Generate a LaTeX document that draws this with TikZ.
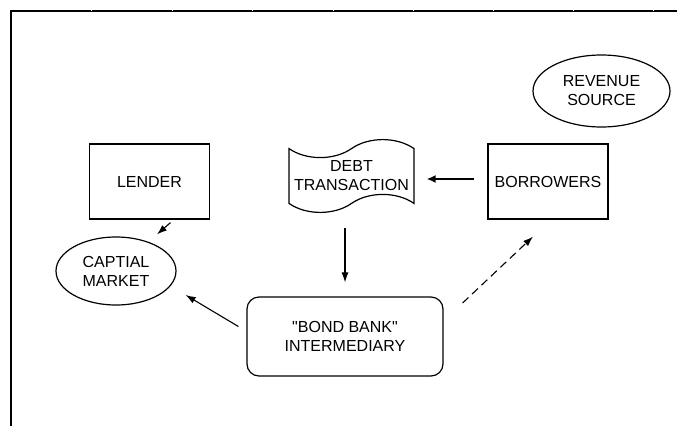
\documentclass[tikz,border=0pt]{standalone}
\usepackage{fontspec}
\setmainfont{Liberation Sans}
\usetikzlibrary{positioning}
\usetikzlibrary{arrows.meta}
\usetikzlibrary{calc}
\usetikzlibrary{shapes.geometric,shapes.symbols}

\begin{document}
\begin{tikzpicture}[x=1pt,y=-1pt,
    every node/.style={font=\fontsize{16}{19}\selectfont, align=center},
    box/.style={draw, line width=1.2pt, minimum width=120pt, minimum height=75pt},
    oval/.style={draw, ellipse, line width=1.2pt},
    arr/.style={line width=1.1pt, -{Latex[length=10pt,width=7pt]}},
    bigarr/.style={line width=2.4pt, -{Latex[length=9pt,width=8pt]}}]
        \useasboundingbox (0,0) rectangle (677,426);

        % frame
        \draw[line width=2pt] (11,426) -- (11,11) -- (677,11);
        \foreach \x in {91,172,252,333,413,493,573,653}
        \draw[white, line width=0.4pt] (\x,10) -- (\x,11);

        % the nodes
        \node[box] (lender) at (149.5,181.5) {LENDER};
        \node[box] (borrowers) at (548,181.5) {BORROWERS};
        \node[oval, minimum width=120pt, minimum height=68pt, align=left] (market) at (116,271) {CAPTIAL\\MARKET};
        \node[oval, minimum width=137pt, minimum height=72pt] (revenue) at (601.5,91) {REVENUE\\SOURCE};
        \node[draw, tape, line width=1.2pt, tape bend height=18pt, minimum width=125pt, minimum height=72pt] (debt) at (351.5,176) {DEBT\\TRANSACTION};
        \node[draw, rounded corners=12pt, line width=1.2pt, minimum width=196pt, minimum height=79pt] (bank) at (345,336.5) {\textquotedbl BOND BANK\textquotedbl\\INTERMEDIARY};

        % the arrows
        \draw[arr] ($(lender.south)+(21,3)$) -- ($(market.north)+(41,-2)$);
        \draw[bigarr, shorten <=13pt, shorten >=12pt] ([yshift=2.5pt]borrowers.west) -- ([yshift=-3pt]debt.east);
        \draw[arr, shorten <=24pt, shorten >=14pt] (debt.south -| bank.north) -- (bank.north);
        \draw[arr] ($(bank.west)+(-8,-10)$) -- ($(market.east)+(9,24)$);
        \draw[arr, dash pattern=on 8pt off 5pt] ($(bank.east)+(19,-33.5)$) -- ($(borrowers.south)+(-15,17)$);
\end{tikzpicture}
\end{document}
